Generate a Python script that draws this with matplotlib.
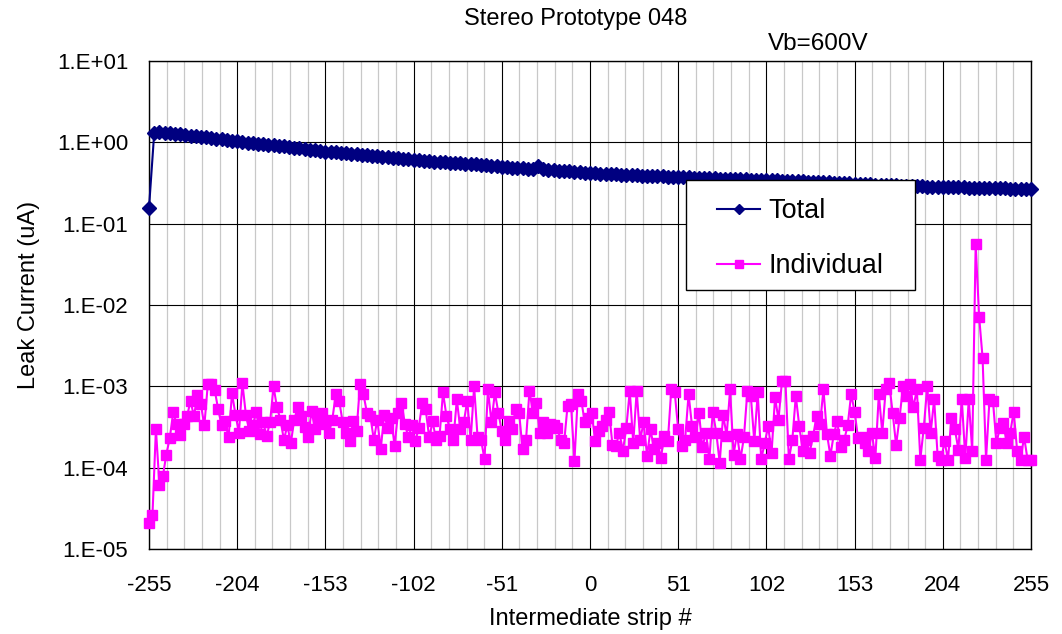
import matplotlib
matplotlib.use('Agg')
import matplotlib.pyplot as plt
import numpy as np
from matplotlib.patches import Rectangle
from matplotlib.ticker import FixedLocator, MultipleLocator, NullLocator

plt.rcParams['font.family'] = ['Liberation Sans', 'DejaVu Sans']
plt.rcParams['axes.unicode_minus'] = False

# axis ticks
strip_ticks = [-255, -204, -153, -102, -51, 0, 51, 102, 153, 204, 255]
decades = [1e-5, 1e-4, 1e-3, 1e-2, 1e-1, 1e0, 1e1]
decade_labels = ['1.E-05', '1.E-04', '1.E-03', '1.E-02', '1.E-01', '1.E+00', '1.E+01']

# total leak current (uA), every 3rd strip from -255 to 255
total_strips = np.arange(-255, 256, 3)
total_current = [
    0.156, 1.29, 1.33, 1.31, 1.29, 1.27, 1.25, 1.23, 1.21, 1.19, 1.17, 1.15, 1.13, 1.11, 1.09, 1.07, 1.05,
    1.03, 1.01, 0.995, 0.98, 0.965, 0.95, 0.935, 0.92, 0.905, 0.89, 0.875, 0.86, 0.845, 0.83, 0.815, 0.80, 0.785,
    0.77, 0.76, 0.75, 0.74, 0.73, 0.72, 0.71, 0.70, 0.69, 0.685, 0.675, 0.665, 0.655, 0.645, 0.64, 0.63, 0.62,
    0.61, 0.60, 0.595, 0.59, 0.58, 0.575, 0.57, 0.56, 0.555, 0.55, 0.545, 0.54, 0.535, 0.53, 0.52, 0.515, 0.51,
    0.50, 0.495, 0.49, 0.485, 0.48, 0.475, 0.47, 0.515, 0.465, 0.46, 0.455, 0.45, 0.445, 0.44, 0.435, 0.43, 0.425,
    0.42, 0.417, 0.413, 0.41, 0.407, 0.404, 0.401, 0.398, 0.396, 0.393, 0.39, 0.388, 0.386, 0.384, 0.382, 0.38, 0.378,
    0.375, 0.373, 0.37, 0.368, 0.366, 0.364, 0.362, 0.36, 0.358, 0.356, 0.355, 0.353, 0.352, 0.35, 0.349, 0.347, 0.346,
    0.345, 0.343, 0.341, 0.339, 0.337, 0.335, 0.333, 0.331, 0.329, 0.327, 0.325, 0.323, 0.321, 0.319, 0.317, 0.315, 0.313,
    0.311, 0.309, 0.307, 0.305, 0.303, 0.301, 0.299, 0.297, 0.295, 0.293, 0.291, 0.289, 0.288, 0.287, 0.286, 0.285, 0.284,
    0.283, 0.282, 0.281, 0.28, 0.279, 0.278, 0.277, 0.276, 0.275, 0.274, 0.273, 0.272, 0.271, 0.27, 0.269, 0.268, 0.267,
    0.266,
]

# individual strip current in units of 1e-4 uA, every 2nd strip from -255 to 255
indiv_strips = np.arange(-255, 256, 2)
indiv_e4 = [
    # -255 .. -155
    0.21, 0.26, 3.0, 0.62, 0.78, 1.45, 2.3, 4.8, 3.4, 2.5,
    3.4, 4.3, 6.6, 4.3, 7.8, 6.0, 3.3, 10.6, 10.6, 9.0,
    5.2, 3.3, 3.7, 2.35, 8.2, 4.5, 2.7, 11.0, 4.5, 2.8,
    3.3, 4.9, 2.6, 3.6, 2.45, 3.6, 10.0, 5.5, 3.9, 2.2,
    3.3, 2.0, 3.9, 5.5, 4.3, 3.2, 2.35, 5.0, 2.96, 4.0,
    4.75,
    # -153 .. -53
    3.4, 2.7, 3.9, 8.0, 6.6, 3.6, 2.7, 2.1, 3.7, 2.8,
    10.6, 8.0, 4.75, 4.3, 2.2, 3.9, 1.68, 4.5, 3.1, 4.1,
    1.85, 4.75, 6.3, 3.4, 2.35, 3.3, 2.1, 3.1, 6.3, 5.2,
    2.35, 3.7, 2.2, 2.45, 8.4, 4.3, 2.96, 2.2, 6.9, 2.96,
    3.6, 6.6, 2.2, 10.0, 2.35, 2.2, 1.27, 9.2, 3.6, 8.4,
    4.75,
    # -51 .. 45
    2.8, 2.2, 3.7, 3.0, 5.2, 4.75, 1.68, 2.2, 8.8, 4.75,
    6.3, 2.7, 3.6, 2.7, 3.4, 3.3, 3.1, 2.2, 2.0, 5.7,
    6.0, 1.2, 8.0, 6.6, 3.6, 4.1, 4.75, 2.1, 2.8, 3.25,
    3.9, 4.9, 1.9, 1.85, 2.7, 1.6, 3.1, 8.8, 2.0, 8.8,
    2.2, 3.6, 1.4, 2.96, 1.68, 2.0, 1.33, 2.45, 2.1,
    # 47 .. 147
    9.2, 8.4, 2.96, 1.85, 2.2, 8.0, 3.25, 2.35, 4.75, 1.77,
    2.7, 1.27, 4.9, 2.7, 1.15, 4.5, 2.45, 9.2, 1.45, 2.6,
    1.27, 2.35, 8.8, 7.6, 2.1, 8.4, 1.27, 2.0, 3.25, 1.53,
    7.3, 3.9, 11.6, 11.6, 1.27, 2.2, 7.6, 3.25, 1.6, 2.2,
    1.53, 2.45, 4.3, 3.4, 9.2, 2.6, 1.4, 2.6, 3.7, 1.77,
    2.2,
    # 149 .. 255
    3.3, 8.0, 4.9, 2.3, 2.4, 2.0, 1.6, 2.7, 1.3, 8.0,
    2.7, 9.2, 11.0, 4.7, 1.9, 4.1, 10.0, 7.6, 10.6, 5.5,
    9.2, 1.26, 3.1, 10.0, 2.7, 6.9, 1.4, 1.26, 2.1, 1.26,
    4.1, 2.95, 1.67, 6.9, 1.3, 6.9, 1.6, 557.0, 71.8, 22.5,
    1.26, 6.9, 6.6, 2.0, 3.1, 3.5, 2.0, 2.7, 4.9, 1.6,
    1.26, 2.4, 1.26, 1.26,
]
indiv_current = np.array(indiv_e4) * 1e-4

W, H = 1062, 634
fig = plt.figure(figsize=(W / 100, H / 100), dpi=100)
ax = fig.add_axes([149 / W, 85 / H, 882 / W, 488 / H])

ax.set_yscale('log')
ax.set_xlim(-255, 255)
ax.set_ylim(1e-5, 10)
ax.xaxis.set_major_locator(FixedLocator(strip_ticks))
ax.xaxis.set_minor_locator(MultipleLocator(10.2))
ax.set_yticks(decades, labels=decade_labels)
ax.yaxis.set_minor_locator(NullLocator())

ax.grid(True, which='major', color='black', lw=0.8)
ax.grid(True, which='minor', axis='x', color='#c8c8c8', lw=0.9)
ax.set_axisbelow(True)
ax.tick_params(which='both', length=0)
ax.tick_params(axis='x', pad=18.5, labelsize=16)
ax.tick_params(axis='y', pad=15, labelsize=16)
for sp in ax.spines.values():
    sp.set_color('black')
    sp.set_linewidth(1.0)

ax.plot(total_strips, total_current, color='#000080', lw=1.5, marker='D', ms=7,
        mfc='#000080', mec='#000080', label='Total', clip_on=False, zorder=3)
ax.plot(indiv_strips, indiv_current, color='#ff00ff', lw=1.5, marker='s', ms=6.5,
        mfc='#ff00ff', mec='#ff00ff', label='Individual', clip_on=False, zorder=3)

# legend: white box drawn separately, entries placed inside it
box = Rectangle((686 / W, 1 - 290 / H), 229 / W, 110 / H, transform=fig.transFigure,
                facecolor='white', edgecolor='black', lw=1.0, zorder=4)
ax.add_patch(box)
leg = ax.legend(loc='upper left', bbox_to_anchor=(717 / W, 1 - 198 / H),
                bbox_transform=fig.transFigure, frameon=False, fontsize=19.5,
                borderpad=0, borderaxespad=0, handlelength=1.6, handletextpad=0.3,
                labelspacing=1.08, numpoints=1, markerscale=0.8)
leg.set_zorder(5)

ax.set_xlabel('Intermediate strip #', fontsize=17)
ax.xaxis.set_label_coords(0.5, -0.121)
ax.set_ylabel('Leak Current (uA)', fontsize=17, va='center')
ax.yaxis.set_label_coords((29 - 149) / 882, (549 - 295) / 488)

fig.text(575.5 / W, 1 - 25 / H, 'Stereo Prototype 048', ha='center', va='baseline', fontsize=17)
fig.text(768 / W, 1 - 50 / H, 'Vb=600V', ha='left', va='baseline', fontsize=17.5)

fig.savefig('out.png', dpi=100)
